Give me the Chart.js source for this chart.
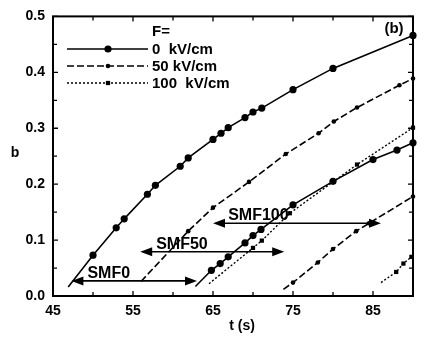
<!DOCTYPE html>
<html><head><meta charset="utf-8">
<script src="https://cdn.jsdelivr.net/npm/chart.js@4/dist/chart.umd.min.js"></script>
<style>html,body{margin:0;padding:0;background:#fff}#wrap{width:422px;height:339px;position:relative}</style>
</head><body><div id="wrap"><canvas id="c" width="422" height="339"></canvas></div>
<script>
// ---- data ----
const fieldLabels = ['0  kV/cm', '50 kV/cm', '100  kV/cm'];
// F = 0 kV/cm, first and second branch
const t0a = [46.9, 50.0, 52.9, 53.9, 56.8, 57.8, 60.9, 61.9, 65.0, 66.0, 66.9, 69.0, 70.0, 71.1, 75.0, 80.0, 90.0];
const b0a = [0.016, 0.073, 0.122, 0.138, 0.182, 0.198, 0.232, 0.247, 0.280, 0.291, 0.301, 0.319, 0.329, 0.336, 0.369, 0.407, 0.466];
const t0b = [62.8, 64.8, 65.9, 66.9, 69.0, 70.0, 71.0, 75.0, 80.0, 85.0, 88.0, 90.0];
const b0b = [0.017, 0.046, 0.058, 0.070, 0.095, 0.108, 0.119, 0.163, 0.205, 0.244, 0.261, 0.274];
// F = 50 kV/cm
const t50a = [56.0, 61.9, 65.0, 69.5, 74.1, 78.2, 80.1, 83.0, 88.3, 90.0];
const b50a = [0.026, 0.116, 0.158, 0.204, 0.254, 0.291, 0.312, 0.337, 0.377, 0.389];
const t50b = [73.8, 75.0, 78.1, 80.0, 82.9, 84.5, 90.0];
const b50b = [0.012, 0.024, 0.060, 0.084, 0.116, 0.130, 0.178];
// F = 100 kV/cm
const t100a = [64.5, 70.0, 71.1, 74.6, 83.0, 90.0];
const b100a = [0.022, 0.086, 0.099, 0.148, 0.235, 0.301];
const t100b = [86.0, 87.9, 88.8, 89.8];
const b100b = [0.024, 0.043, 0.058, 0.070];

const xTickLabels = [45, 55, 65, 75, 85];
const xMinorTicks = [50, 60, 70, 80, 90];
const yTickLabels = [0.0, 0.1, 0.2, 0.3, 0.4, 0.5];
const yMinorTicks = [0.05, 0.15, 0.25, 0.35, 0.45];

const smfLabels = ['SMF0', 'SMF50', 'SMF100'];
const smfFrom = [47.3, 55.9, 65.0];
const smfTo = [63.0, 73.9, 86.0];
const smfLevel = [0.027, 0.079, 0.130];
const smfTextAt = [49.3, 57.9, 66.9];

const panelLabel = '(b)';
const legendTitle = 'F=';
const xTitle = 't (s)';
const yTitle = 'b';

// ---- build ----
const FONT = '"Liberation Sans", Arial, sans-serif';
const zip = (xs, ys) => xs.map((x, i) => ({x, y: ys[i]}));
const styles = [
  {borderDash: [], borderWidth: 1.6, pointStyle: 'circle', r: 3.6},
  {borderDash: [7, 3], borderWidth: 1.6, pointStyle: 'circle', r: 2.3},
  {borderDash: [2, 2], borderWidth: 1.4, pointStyle: 'rect', r: 3}
];
function ds(xs, ys, k) {
  const s = styles[k];
  return {
    data: zip(xs, ys), borderColor: '#000', backgroundColor: '#000',
    borderWidth: s.borderWidth, borderDash: s.borderDash, pointStyle: s.pointStyle,
    pointRadius: c => c.dataIndex === 0 ? 0 : s.r, pointHoverRadius: 0,
    pointBackgroundColor: '#000', pointBorderColor: '#000', pointBorderWidth: 0,
    tension: 0, clip: false
  };
}
const datasets = [
  ds(t0a, b0a, 0), ds(t0b, b0b, 0),
  ds(t50a, b50a, 1), ds(t50b, b50b, 1),
  ds(t100a, b100a, 2), ds(t100b, b100b, 2)
];

function marker(ctx, k, x, y) {
  const s = styles[k];
  ctx.fillStyle = '#000';
  if (s.pointStyle === 'rect') {
    const h = s.r * Math.SQRT1_2 * 2;
    ctx.fillRect(x - h / 2, y - h / 2, h, h);
  } else {
    ctx.beginPath(); ctx.arc(x, y, s.r, 0, Math.PI * 2); ctx.fill();
  }
}

const decor = {
  id: 'decor',
  afterDatasetsDraw(chart) {
    const ctx = chart.ctx, xs = chart.scales.x, ys = chart.scales.y, a = chart.chartArea;
    ctx.save();
    // ticks (inward, all four sides)
    ctx.strokeStyle = '#000'; ctx.lineWidth = 1.3; ctx.setLineDash([]);
    const tickX = (v, len) => {
      const p = xs.getPixelForValue(v);
      ctx.beginPath(); ctx.moveTo(p, a.bottom); ctx.lineTo(p, a.bottom - len);
      ctx.moveTo(p, a.top); ctx.lineTo(p, a.top + len); ctx.stroke();
    };
    const tickY = (v, len) => {
      const p = ys.getPixelForValue(v);
      ctx.beginPath(); ctx.moveTo(a.left, p); ctx.lineTo(a.left + len, p);
      ctx.moveTo(a.right, p); ctx.lineTo(a.right - len, p); ctx.stroke();
    };
    xTickLabels.forEach(v => tickX(v, 5)); xMinorTicks.forEach(v => tickX(v, 4));
    yTickLabels.forEach(v => tickY(v, 5)); yMinorTicks.forEach(v => tickY(v, 4));
    // frame
    ctx.lineWidth = 2;
    ctx.strokeRect(a.left, a.top, a.right - a.left, a.bottom - a.top);

    // SMF arrows
    ctx.lineWidth = 1.6;
    for (let i = 0; i < smfLabels.length; i++) {
      const x1 = xs.getPixelForValue(smfFrom[i]), x2 = xs.getPixelForValue(smfTo[i]);
      const y = ys.getPixelForValue(smfLevel[i]);
      const L = 12, W = 4.5;
      ctx.beginPath(); ctx.moveTo(x1 + L - 2, y); ctx.lineTo(x2 - L + 2, y); ctx.stroke();
      ctx.beginPath(); ctx.moveTo(x1, y); ctx.lineTo(x1 + L, y - W); ctx.lineTo(x1 + L, y + W); ctx.closePath(); ctx.fill();
      ctx.beginPath(); ctx.moveTo(x2, y); ctx.lineTo(x2 - L, y - W); ctx.lineTo(x2 - L, y + W); ctx.closePath(); ctx.fill();
      ctx.font = 'bold 16px ' + FONT; ctx.textAlign = 'left'; ctx.textBaseline = 'alphabetic';
      ctx.fillText(smfLabels[i], xs.getPixelForValue(smfTextAt[i]), y - 3);
    }

    // legend
    ctx.font = 'bold 15px ' + FONT; ctx.textBaseline = 'middle'; ctx.textAlign = 'left';
    ctx.fillText(legendTitle, 152, 32);
    const rows = [49, 66, 83];
    for (let k = 0; k < 3; k++) {
      const y = rows[k];
      ctx.lineWidth = styles[k].borderWidth; ctx.setLineDash(styles[k].borderDash);
      ctx.beginPath(); ctx.moveTo(67, y); ctx.lineTo(148, y); ctx.stroke();
      ctx.setLineDash([]);
      marker(ctx, k, 108, y);
      ctx.fillText(fieldLabels[k], 152, y + 1);
    }

    // panel label and axis titles
    ctx.font = 'bold 15px ' + FONT; ctx.textAlign = 'center';
    ctx.fillText(panelLabel, 394, 29);
    ctx.font = 'bold 14px ' + FONT;
    ctx.fillText(xTitle, 242, 326);
    ctx.fillText(yTitle, 15, 153);
    ctx.restore();
  }
};

new Chart(document.getElementById('c'), {
  type: 'line',
  data: {datasets},
  plugins: [decor],
  options: {
    responsive: false, animation: false, devicePixelRatio: 1,
    layout: {padding: {left: 0, right: 9, top: 14, bottom: 0}},
    plugins: {legend: {display: false}, tooltip: {enabled: false}},
    scales: {
      x: {
        type: 'linear', min: 45, max: 90,
        grid: {display: false, drawTicks: false}, border: {display: false},
        afterBuildTicks: s => { s.ticks = xTickLabels.map(v => ({value: v})); },
        afterFit: s => { s.height = 43; },
        ticks: {color: '#000', padding: 7, maxRotation: 0, font: {size: 14, weight: 'bold', family: FONT}}
      },
      y: {
        type: 'linear', min: 0, max: 0.5,
        grid: {display: false, drawTicks: false}, border: {display: false},
        afterBuildTicks: s => { s.ticks = yTickLabels.map(v => ({value: v})); },
        afterFit: s => { s.width = 53; },
        ticks: {color: '#000', padding: 8, font: {size: 14, weight: 'bold', family: FONT}, callback: v => v.toFixed(1)}
      }
    }
  }
});
</script></body></html>
